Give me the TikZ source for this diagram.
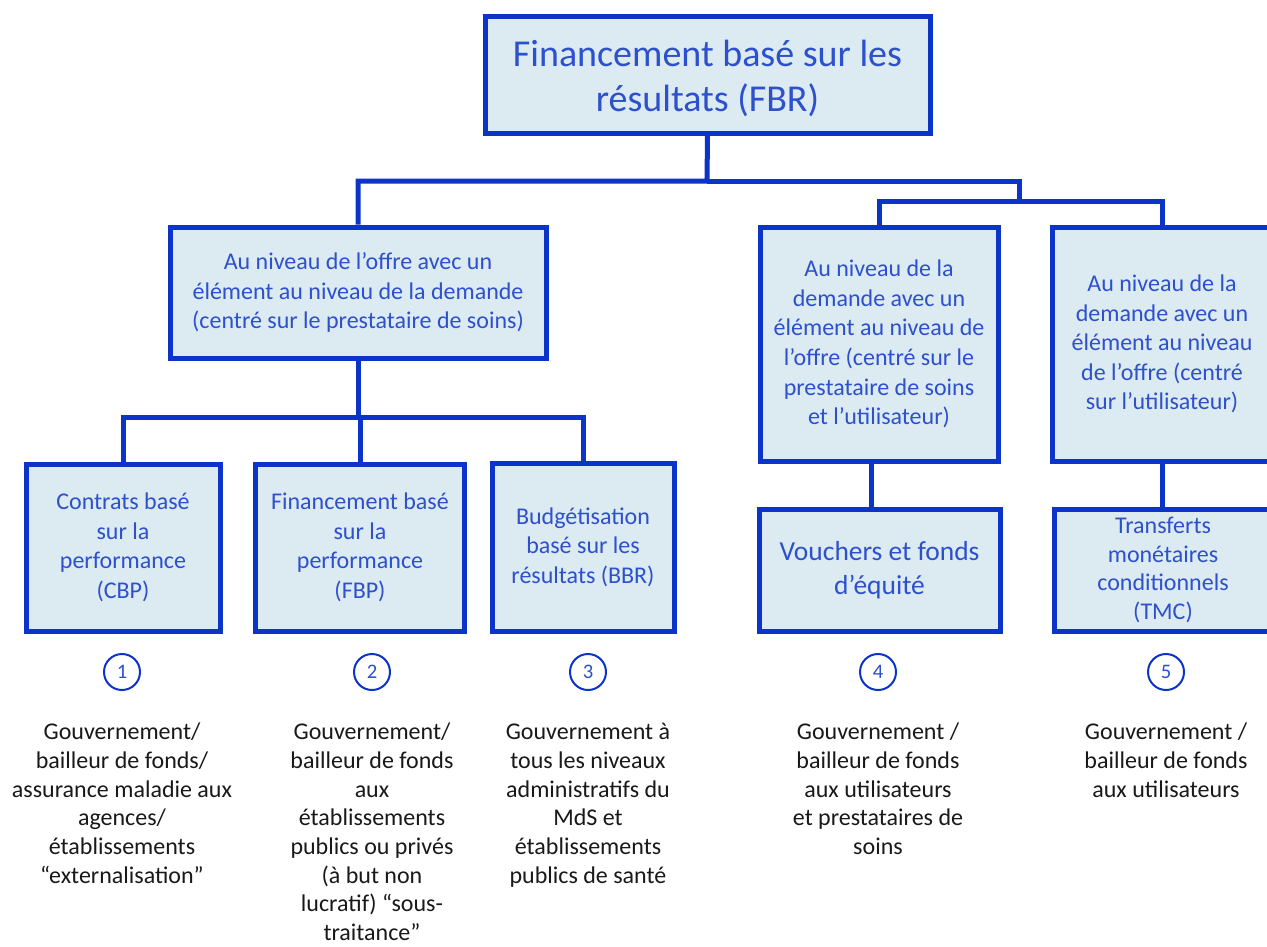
\documentclass[tikz,border=0pt]{standalone}
\usepackage{fontspec}
\setmainfont{Carlito}
\definecolor{bord}{RGB}{12,52,200}
\definecolor{fillb}{RGB}{220,234,242}
\definecolor{txtb}{RGB}{45,80,205}
\definecolor{txtk}{RGB}{25,25,25}
\begin{document}
\begin{tikzpicture}[x=0.75pt,y=-0.75pt,
  box/.style={draw=bord, fill=fillb, line width=3.75pt, text=txtb, align=center,
    inner sep=0pt, font=\fontsize{18}{22.2}\selectfont},
  conn/.style={draw=bord, line width=3.75pt},
  num/.style={circle, draw=bord, line width=1.5pt, minimum size=27pt, inner sep=0pt,
    text=txtb, font=\fontsize{15.5}{18}\selectfont},
  desc/.style={align=center, text=txtk, anchor=north, inner sep=0pt,
    font=\fontsize{18}{21.5}\selectfont}]
\clip (0,0) rectangle (1267,946);
\fill[white] (0,0) rectangle (1267,946);

% boxes
\node[box, minimum width=333.75pt, minimum height=87.75pt, font=\fontsize{28.5}{34}\selectfont]
  (top) at (707.5,74.5) {\raisebox{-4pt}[\height][\depth]{\begin{tabular}{@{}c@{}}Financement basé sur les\\résultats (FBR)\end{tabular}}};
\node[box, minimum width=282pt, minimum height=98.25pt]
  (mid) at (358,292.5) {Au niveau de l’offre avec un\\élément au niveau de la demande\\(centré sur le prestataire de soins)};
\node[box, minimum width=178.5pt, minimum height=175.5pt]
  (dm) at (879,344) {Au niveau de la\\demande avec un\\élément au niveau de\\l’offre (centré sur le\\prestataire de soins\\et l’utilisateur)};
\node[box, minimum width=165pt, minimum height=175.5pt]
  (du) at (1162,344) {Au niveau de la\\demande avec un\\élément au niveau\\de l’offre (centré\\sur l’utilisateur)};
\node[box, minimum width=145.5pt, minimum height=125.25pt]
  (cbp) at (123,547.5) {Contrats basé\\sur la\\performance\\(CBP)};
\node[box, minimum width=156.75pt, minimum height=125.25pt]
  (fbp) at (360,547.5) {Financement basé\\sur la\\performance\\(FBP)};
\node[box, minimum width=136.5pt, minimum height=126pt]
  (bbr) at (583,547) {Budgétisation\\basé sur les\\résultats (BBR)};
\node[box, minimum width=180.75pt, minimum height=91.5pt, font=\fontsize{20.6}{25.5}\selectfont]
  (vf) at (879.5,570) {Vouchers et fonds\\d’équité};
\node[box, minimum width=163.5pt, minimum height=91.5pt, font=\fontsize{18}{21.6}\selectfont]
  (tmc) at (1163,570) {Transferts\\monétaires\\conditionnels\\(TMC)};

% junction points
\coordinate (j1) at (707,181);
\coordinate (j2) at (1019,181);
\coordinate (j3) at (1019,201);
\coordinate (j4) at (358,417);

% connectors
\draw[conn] (top.south) -- (j1) -| (mid.north);
\draw[conn] (j1) -- (j2) -- (j3);
\draw[conn] (dm.north) |- (j3) -| (du.north);
\draw[conn] (mid.south) -- (j4);
\draw[conn] (cbp.north) |- (j4) -| (bbr.north);
\draw[conn] (fbp.north) -- (fbp.north |- j4);
\draw[conn] ([xshift=-6pt]dm.south) -- ([xshift=-6pt]dm.south |- vf.north);
\draw[conn] (du.south) -- (du.south |- tmc.north);

% numbers
\node[num] (n1) at (122,672) {1};
\node[num] (n2) at (372,672) {2};
\node[num] (n3) at (588,672) {3};
\node[num] (n4) at (878,672) {4};
\node[num] (n5) at (1166,672) {5};

% descriptions
\node[desc] (t1) at (122,723) {Gouvernement/\\bailleur de fonds/\\assurance maladie aux\\agences/\\établissements\\“externalisation”};
\node[desc] (t2) at (372,723) {Gouvernement/\\bailleur de fonds\\aux\\établissements\\publics ou privés\\(à but non\\lucratif) “sous-\\traitance”};
\node[desc] (t3) at (588,723) {Gouvernement à\\tous les niveaux\\administratifs du\\MdS et\\établissements\\publics de santé};
\node[desc] (t4) at (878,723) {Gouvernement /\\bailleur de fonds\\aux utilisateurs\\et prestataires de\\soins};
\node[desc] (t5) at (1166,723) {Gouvernement /\\bailleur de fonds\\aux utilisateurs};
\end{tikzpicture}
\end{document}
